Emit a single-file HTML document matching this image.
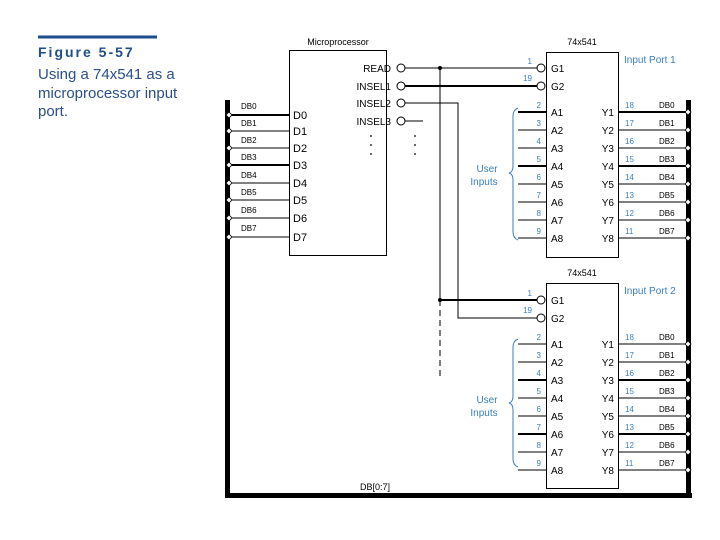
<!DOCTYPE html>
<html><head><style>body{margin:0;background:#fff}svg{display:block;font-family:"Liberation Sans",sans-serif}</style></head><body>
<svg width="720" height="540" viewBox="0 0 720 540">
<rect x="38" y="35.5" width="119" height="3" fill="#1f4e8c"/>
<text x="38" y="57" font-size="14" font-weight="bold" letter-spacing="2" fill="#1f4e8c">Figure 5-57</text>
<g font-size="15" fill="#2a4f8a"><text x="38" y="79">Using a 74x541 as a</text><text x="38" y="98">microprocessor input</text><text x="38" y="116">port.</text></g>

<g stroke="#000" fill="none" stroke-width="1">
<rect x="289.5" y="50.5" width="97" height="205"/>
<rect x="546.5" y="52.5" width="72" height="205"/>
<rect x="546.5" y="283.5" width="72" height="205"/>
</g>
<rect x="225" y="100" width="5" height="398" fill="#000"/>
<rect x="225" y="493" width="467" height="5" fill="#000"/>
<rect x="686" y="100" width="5" height="398" fill="#000"/>

<g font-size="9" text-anchor="middle"><text x="338" y="45">Microprocessor</text><text x="582" y="45">74x541</text><text x="582" y="276">74x541</text></g>
<text x="360" y="490" font-size="9">DB[0:7]</text>

<!-- left DB wires -->
<g stroke="#000"><line x1="229" y1="115" x2="289" y2="115" stroke-width="2"/><line x1="229" y1="131" x2="289" y2="131"/><line x1="229" y1="148" x2="289" y2="148"/><line x1="229" y1="165" x2="289" y2="165" stroke-width="2"/><line x1="229" y1="183" x2="289" y2="183"/><line x1="229" y1="200" x2="289" y2="200"/><line x1="229" y1="218" x2="289" y2="218"/><line x1="229" y1="237" x2="289" y2="237"/></g>
<g fill="#fff" stroke="#000" stroke-width="0.8">
<path d="M226 115l3-3 3 3-3 3z"/><path d="M226 131l3-3 3 3-3 3z"/><path d="M226 148l3-3 3 3-3 3z"/><path d="M226 165l3-3 3 3-3 3z"/><path d="M226 183l3-3 3 3-3 3z"/><path d="M226 200l3-3 3 3-3 3z"/><path d="M226 218l3-3 3 3-3 3z"/><path d="M226 237l3-3 3 3-3 3z"/>
</g>
<g font-size="8"><text x="241" y="109">DB0</text><text x="241" y="126">DB1</text><text x="241" y="143">DB2</text><text x="241" y="160">DB3</text><text x="241" y="178">DB4</text><text x="241" y="195">DB5</text><text x="241" y="213">DB6</text><text x="241" y="231">DB7</text></g>
<g font-size="11"><text x="293" y="119">D0</text><text x="293" y="135">D1</text><text x="293" y="152">D2</text><text x="293" y="169">D3</text><text x="293" y="187">D4</text><text x="293" y="204">D5</text><text x="293" y="222">D6</text><text x="293" y="241">D7</text></g>
<g font-size="10" text-anchor="end"><text x="391" y="72">READ</text><text x="391" y="90">INSEL1</text><text x="391" y="107">INSEL2</text><text x="391" y="125">INSEL3</text></g>
<g fill="#fff" stroke="#000"><circle cx="401" cy="68" r="4"/><circle cx="401" cy="86" r="4"/><circle cx="401" cy="103" r="4"/><circle cx="401" cy="121" r="4"/>
<circle cx="541" cy="68" r="4"/><circle cx="541" cy="86" r="4"/><circle cx="541" cy="300" r="4"/><circle cx="541" cy="318" r="4"/></g>
<g stroke="#000" fill="none">
<line x1="405" y1="68" x2="537" y2="68"/>
<line x1="405" y1="86" x2="537" y2="86" stroke-width="2"/>
<polyline points="405,103 458,103 458,318 537,318"/>
<line x1="405" y1="121" x2="423" y2="121"/>
<line x1="440" y1="68" x2="440" y2="300"/>
<line x1="440" y1="300" x2="537" y2="300" stroke-width="2"/>
<line x1="440" y1="300" x2="440" y2="380" stroke-dasharray="6,4"/>
</g>
<circle cx="440" cy="68" r="2"/><circle cx="440" cy="300" r="2"/>
<g fill="#000"><circle cx="371" cy="136" r="0.9"/><circle cx="371" cy="145" r="0.9"/><circle cx="371" cy="154" r="0.9"/><circle cx="415" cy="136" r="0.9"/><circle cx="415" cy="145" r="0.9"/><circle cx="415" cy="154" r="0.9"/></g>

<g font-size="10"><text x="551" y="72">G1</text><text x="551" y="90">G2</text><text x="551" y="304">G1</text><text x="551" y="322">G2</text></g>
<g font-size="8" fill="#3a7fc0" text-anchor="end"><text x="532" y="64">1</text><text x="532" y="81">19</text><text x="532" y="296">1</text><text x="532" y="313">19</text></g>
<g font-size="10" fill="#3a7fc0"><text x="624" y="63">Input Port 1</text><text x="624" y="294">Input Port 2</text>
<text x="487" y="172" text-anchor="middle">User</text><text x="484" y="185" text-anchor="middle">Inputs</text>
<text x="487" y="403" text-anchor="middle">User</text><text x="484" y="416" text-anchor="middle">Inputs</text></g>
<g stroke="#3a7fc0" fill="none"><path d="M518 108q-5 2-5 8v50q0 6-4 7 4 1 4 7v52q0 6 5 8"/><path d="M518 339q-5 2-5 8v49q0 6-4 7 4 1 4 7v49q0 6 5 8"/></g>

<!-- chip1 rows -->
<g stroke="#000">
<line x1="518" y1="112" x2="546" y2="112" stroke-width="2"/><line x1="518" y1="130" x2="546" y2="130"/><line x1="518" y1="148" x2="546" y2="148"/><line x1="518" y1="166" x2="546" y2="166" stroke-width="2"/><line x1="518" y1="184" x2="546" y2="184"/><line x1="518" y1="202" x2="546" y2="202"/><line x1="518" y1="220" x2="546" y2="220"/><line x1="518" y1="238" x2="546" y2="238"/>
<line x1="618" y1="112" x2="688" y2="112" stroke-width="2"/><line x1="618" y1="130" x2="688" y2="130"/><line x1="618" y1="148" x2="688" y2="148"/><line x1="618" y1="166" x2="688" y2="166" stroke-width="2"/><line x1="618" y1="184" x2="688" y2="184"/><line x1="618" y1="202" x2="688" y2="202"/><line x1="618" y1="220" x2="688" y2="220"/><line x1="618" y1="238" x2="688" y2="238"/>
<line x1="518" y1="344" x2="546" y2="344"/><line x1="518" y1="362" x2="546" y2="362"/><line x1="518" y1="380" x2="546" y2="380" stroke-width="2"/><line x1="518" y1="398" x2="546" y2="398"/><line x1="518" y1="416" x2="546" y2="416"/><line x1="518" y1="434" x2="546" y2="434" stroke-width="2"/><line x1="518" y1="452" x2="546" y2="452"/><line x1="518" y1="470" x2="546" y2="470"/>
<line x1="618" y1="344" x2="688" y2="344"/><line x1="618" y1="362" x2="688" y2="362"/><line x1="618" y1="380" x2="688" y2="380" stroke-width="2"/><line x1="618" y1="398" x2="688" y2="398"/><line x1="618" y1="416" x2="688" y2="416"/><line x1="618" y1="434" x2="688" y2="434" stroke-width="2"/><line x1="618" y1="452" x2="688" y2="452"/><line x1="618" y1="470" x2="688" y2="470"/>
</g>
<g fill="#fff" stroke="#000" stroke-width="0.8">
<path d="M685 112l3-3 3 3-3 3z"/><path d="M685 130l3-3 3 3-3 3z"/><path d="M685 148l3-3 3 3-3 3z"/><path d="M685 166l3-3 3 3-3 3z"/><path d="M685 184l3-3 3 3-3 3z"/><path d="M685 202l3-3 3 3-3 3z"/><path d="M685 220l3-3 3 3-3 3z"/><path d="M685 238l3-3 3 3-3 3z"/>
<path d="M685 344l3-3 3 3-3 3z"/><path d="M685 362l3-3 3 3-3 3z"/><path d="M685 380l3-3 3 3-3 3z"/><path d="M685 398l3-3 3 3-3 3z"/><path d="M685 416l3-3 3 3-3 3z"/><path d="M685 434l3-3 3 3-3 3z"/><path d="M685 452l3-3 3 3-3 3z"/><path d="M685 470l3-3 3 3-3 3z"/>
</g>
<g font-size="10"><text x="551" y="116">A1</text><text x="551" y="134">A2</text><text x="551" y="152">A3</text><text x="551" y="170">A4</text><text x="551" y="188">A5</text><text x="551" y="206">A6</text><text x="551" y="224">A7</text><text x="551" y="242">A8</text>
<text x="551" y="348">A1</text><text x="551" y="366">A2</text><text x="551" y="384">A3</text><text x="551" y="402">A4</text><text x="551" y="420">A5</text><text x="551" y="438">A6</text><text x="551" y="456">A7</text><text x="551" y="474">A8</text></g>
<g font-size="10" text-anchor="end"><text x="614" y="116">Y1</text><text x="614" y="134">Y2</text><text x="614" y="152">Y3</text><text x="614" y="170">Y4</text><text x="614" y="188">Y5</text><text x="614" y="206">Y6</text><text x="614" y="224">Y7</text><text x="614" y="242">Y8</text>
<text x="614" y="348">Y1</text><text x="614" y="366">Y2</text><text x="614" y="384">Y3</text><text x="614" y="402">Y4</text><text x="614" y="420">Y5</text><text x="614" y="438">Y6</text><text x="614" y="456">Y7</text><text x="614" y="474">Y8</text></g>
<g font-size="8" fill="#3a7fc0" text-anchor="end"><text x="541" y="108">2</text><text x="541" y="126">3</text><text x="541" y="144">4</text><text x="541" y="162">5</text><text x="541" y="180">6</text><text x="541" y="198">7</text><text x="541" y="216">8</text><text x="541" y="234">9</text>
<text x="541" y="340">2</text><text x="541" y="358">3</text><text x="541" y="376">4</text><text x="541" y="394">5</text><text x="541" y="412">6</text><text x="541" y="430">7</text><text x="541" y="448">8</text><text x="541" y="466">9</text></g>
<g font-size="8" fill="#3a7fc0"><text x="625" y="108">18</text><text x="625" y="126">17</text><text x="625" y="144">16</text><text x="625" y="162">15</text><text x="625" y="180">14</text><text x="625" y="198">13</text><text x="625" y="216">12</text><text x="625" y="234">11</text>
<text x="625" y="340">18</text><text x="625" y="358">17</text><text x="625" y="376">16</text><text x="625" y="394">15</text><text x="625" y="412">14</text><text x="625" y="430">13</text><text x="625" y="448">12</text><text x="625" y="466">11</text></g>
<g font-size="8"><text x="659" y="108">DB0</text><text x="659" y="126">DB1</text><text x="659" y="144">DB2</text><text x="659" y="162">DB3</text><text x="659" y="180">DB4</text><text x="659" y="198">DB5</text><text x="659" y="216">DB6</text><text x="659" y="234">DB7</text>
<text x="659" y="340">DB0</text><text x="659" y="358">DB1</text><text x="659" y="376">DB2</text><text x="659" y="394">DB3</text><text x="659" y="412">DB4</text><text x="659" y="430">DB5</text><text x="659" y="448">DB6</text><text x="659" y="466">DB7</text></g>
</svg>
</body></html>
